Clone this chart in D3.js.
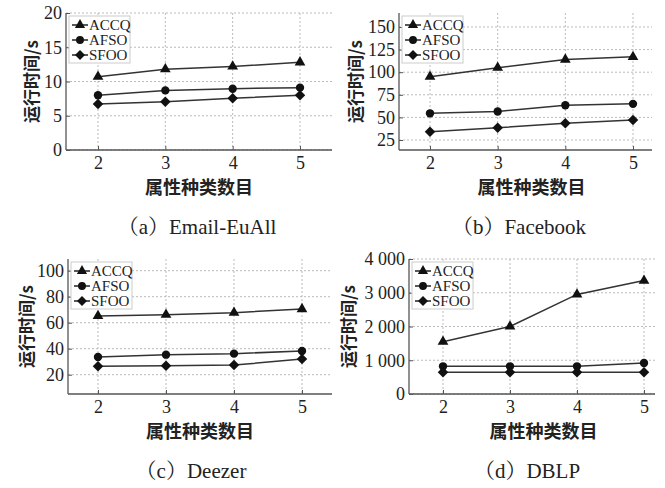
<!DOCTYPE html>
<html>
<head>
<meta charset="utf-8">
<script src="https://cdn.jsdelivr.net/npm/d3@7"></script>
<style>
  body { margin: 0; background: #fff; }
  svg { display: block; }
</style>
</head>
<body>
<svg id="chart" width="665" height="488"></svg>
<script>
// data
const attrCounts = [2, 3, 4, 5]
const seriesNames = ["ACCQ", "AFSO", "SFOO"]

const emailACCQ = [10.7, 11.8, 12.2, 12.8]
const emailAFSO = [8.0, 8.7, 8.95, 9.1]
const emailSFOO = [6.7, 7.05, 7.55, 8.0]

const fbACCQ = [95, 105, 114, 117]
const fbAFSO = [54.5, 56.5, 63.5, 65]
const fbSFOO = [34, 38.5, 43.5, 47]

const deezerACCQ = [65.2, 66.2, 67.7, 70.5]
const deezerAFSO = [33.6, 35.4, 36.2, 38.2]
const deezerSFOO = [26.5, 26.9, 27.4, 32]

const dblpACCQ = [1550, 2000, 2950, 3360]
const dblpAFSO = [820, 820, 820, 920]
const dblpSFOO = [645, 645, 645, 645]

const emailTicks = [0, 5, 10, 15, 20]
const fbTicks = [25, 50, 75, 100, 125, 150]
const deezerTicks = [20, 40, 60, 80, 100]
const dblpTicks = [0, 1000, 2000, 3000, 4000]

const captions = ["（a）Email-EuAll", "（b）Facebook", "（c）Deezer", "（d）DBLP"]
const yTitle = "运行时间/s"
const xTitle = "属性种类数目"

const svg = d3.select("#chart")
const serif = '"Liberation Serif", "Noto Serif CJK SC", serif'
const cjk = '"Noto Sans CJK SC", sans-serif'
const spaceFmt = d => d3.format(",")(d).replace(/,/g, " ")

// panel layout (pixels)
const panels = [
  {left: 66, right: 332, x0: 98, x1: 300, top: 13, bottom: 150, dom: [0, 20], rng: [150, 13], ticks: emailTicks,
   data: [emailACCQ, emailAFSO, emailSFOO], titleX: 30, capX: 197, capY: 234, fmt: d => d},
  {left: 399, right: 652, x0: 430, x1: 633, top: 13, bottom: 150, dom: [25, 150], rng: [140, 27], ticks: fbTicks,
   data: [fbACCQ, fbAFSO, fbSFOO], titleX: 354, capX: 519, capY: 234, fmt: d => d},
  {left: 68, right: 332, x0: 98, x1: 302, top: 259, bottom: 394, dom: [20, 100], rng: [374.7, 270.7], ticks: deezerTicks,
   data: [deezerACCQ, deezerAFSO, deezerSFOO], titleX: 25, capX: 191, capY: 478, fmt: d => d},
  {left: 409, right: 655, x0: 443, x1: 644, top: 259, bottom: 394, dom: [0, 4000], rng: [394, 259], ticks: dblpTicks,
   data: [dblpACCQ, dblpAFSO, dblpSFOO], titleX: 347, capX: 527, capY: 478, fmt: spaceFmt},
]

const markers = [d3.symbolTriangle, d3.symbolCircle, d3.symbolDiamond2]
const markerSize = [50, 55, 70]

panels.forEach((p, i) => {
  const g = svg.append("g")
  const x = d3.scaleLinear().domain([2, 5]).range([p.x0, p.x1])
  const y = d3.scaleLinear().domain(p.dom).range(p.rng)

  // grid
  g.selectAll(".hgrid").data(p.ticks).enter().append("line")
    .attr("x1", p.left).attr("x2", p.right)
    .attr("y1", d => y(d)).attr("y2", d => y(d))
    .attr("stroke", "#bbb").attr("stroke-dasharray", "2,2").attr("stroke-width", 1)
  g.selectAll(".vgrid").data(attrCounts).enter().append("line")
    .attr("x1", d => x(d)).attr("x2", d => x(d))
    .attr("y1", p.top).attr("y2", p.bottom)
    .attr("stroke", "#bbb").attr("stroke-dasharray", "2,2").attr("stroke-width", 1)

  // axes (ticks inward)
  const xAxis = g.append("g").attr("transform", `translate(0,${p.bottom})`)
    .call(d3.axisBottom(x).tickValues(attrCounts).tickFormat(d3.format("d"))
      .tickSizeInner(-4).tickSizeOuter(0).tickPadding(6))
  xAxis.select(".domain").attr("d", `M${p.left},0H${p.right}`)
  const yAxis = g.append("g").attr("transform", `translate(${p.left},0)`)
    .call(d3.axisLeft(y).tickValues(p.ticks).tickFormat(p.fmt).tickSizeInner(-4).tickSizeOuter(0).tickPadding(4))
  yAxis.select(".domain").attr("d", `M0,${p.top}V${p.bottom}`)
  g.selectAll(".domain").attr("stroke", "#555").attr("stroke-width", 1.3)
  g.selectAll(".tick line").attr("stroke", "#555")
  g.selectAll(".tick text").style("font-family", serif).style("font-size", "18px").attr("fill", "#222")

  // series
  const line = d3.line().x((d, j) => x(attrCounts[j])).y(d => y(d))
  p.data.forEach((vals, s) => {
    g.append("path").datum(vals).attr("d", line)
      .attr("fill", "none").attr("stroke", "#333").attr("stroke-width", 1.5)
    g.selectAll(".m" + s).data(vals).enter().append("path")
      .attr("transform", (d, j) => `translate(${x(attrCounts[j])},${y(d)})`)
      .attr("d", d3.symbol().type(markers[s]).size(markerSize[s]))
      .attr("fill", "#111")
  })

  // legend
  const lg = g.append("g").attr("transform", `translate(${p.left + 3},${p.top + 3})`)
  lg.append("rect").attr("width", 61).attr("height", 47)
    .attr("fill", "#fff").attr("stroke", "#ccc")
  seriesNames.forEach((name, s) => {
    const yy = 9 + s * 15
    lg.append("line").attr("x1", 3).attr("x2", 19).attr("y1", yy).attr("y2", yy)
      .attr("stroke", "#222").attr("stroke-width", 1.5)
    lg.append("path").attr("transform", `translate(11,${yy})`)
      .attr("d", d3.symbol().type(markers[s]).size(markerSize[s] * 0.9)).attr("fill", "#111")
    lg.append("text").attr("x", 20).attr("y", yy + 5).text(name)
      .style("font-family", serif).style("font-size", "15px").attr("fill", "#222")
  })

  // titles
  g.append("text")
    .attr("transform", `translate(${p.titleX},${(p.top + p.bottom) / 2}) rotate(-90)`)
    .attr("text-anchor", "middle").attr("dominant-baseline", "central")
    .style("font-family", cjk).style("font-weight", "bold").style("font-size", "17px").attr("fill", "#222")
    .text(yTitle)
  g.append("text")
    .attr("x", (p.x0 + p.x1) / 2).attr("y", p.bottom + 44)
    .attr("text-anchor", "middle")
    .style("font-family", cjk).style("font-weight", "bold").style("font-size", "18px").attr("fill", "#222")
    .text(xTitle)
  g.append("text")
    .attr("x", p.capX).attr("y", p.capY)
    .attr("text-anchor", "middle")
    .style("font-family", serif).style("font-size", "21px").attr("fill", "#222")
    .text(captions[i])
})
</script>
</body>
</html>
